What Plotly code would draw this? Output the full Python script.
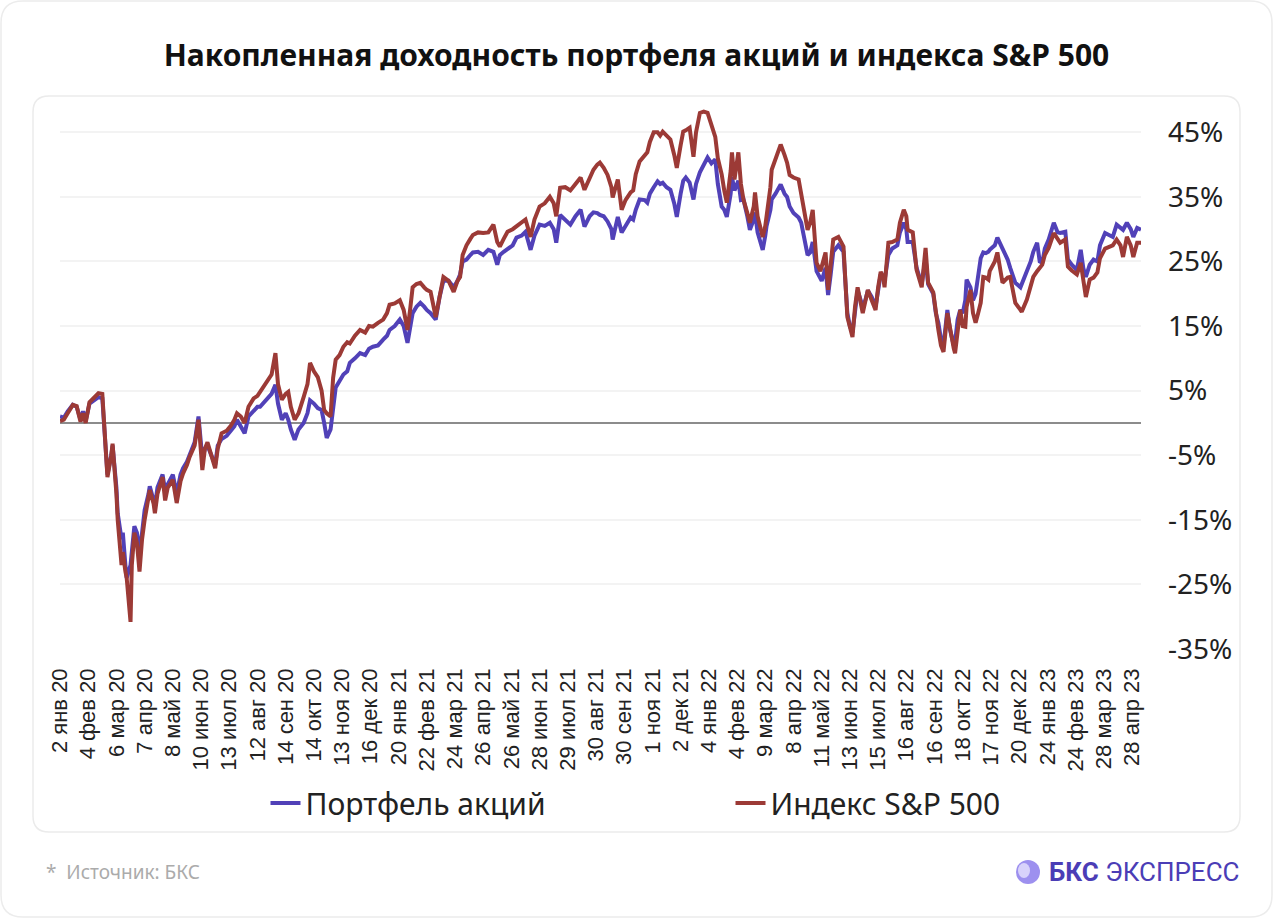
import plotly.graph_objects as go

# ---------------- data ----------------
tick_labels = ["2 янв 20", "4 фев 20", "6 мар 20", "7 апр 20", "8 май 20", "10 июн 20",
               "13 июл 20", "12 авг 20", "14 сен 20", "14 окт 20", "13 ноя 20", "16 дек 20",
               "20 янв 21", "22 фев 21", "24 мар 21", "26 апр 21", "26 май 21", "28 июн 21",
               "29 июл 21", "30 авг 21", "30 сен 21", "1 ноя 21", "2 дек 21", "4 янв 22",
               "4 фев 22", "9 мар 22", "8 апр 22", "11 май 22", "13 июн 22", "15 июл 22",
               "16 авг 22", "16 сен 22", "18 окт 22", "17 ноя 22", "20 дек 22", "24 янв 23",
               "24 фев 23", "28 мар 23", "28 апр 23"]
# trading-day index of each tick label
tick_days = [0, 22, 44, 66, 88, 110, 132, 154, 176, 198, 220, 242, 264, 286, 308, 330,
             352, 374, 396, 418, 440, 462, 484, 506, 528, 550, 572, 594, 616, 638, 660,
             682, 704, 726, 748, 770, 792, 814, 836]

# trading-day index of each sample
days = [0, 3, 6, 10, 13, 16, 18, 20, 23, 27,
        30, 33, 35, 37, 40, 41, 44, 45, 48, 49,
        51, 52, 55, 56, 58, 60, 62, 64, 66, 69,
        70, 73, 74, 76, 80, 82, 84, 88, 91, 94,
        96, 99, 101, 105, 108, 111, 113, 115, 118, 121,
        123, 126, 130, 133, 136, 138, 141, 144, 147, 151,
        154, 156, 159, 162, 165, 168, 170, 173, 176, 178,
        180, 183, 186, 190, 193, 195, 198, 201, 204, 206,
        208, 211, 213, 215, 218, 221, 224, 226, 230, 234,
        238, 241, 244, 248, 252, 255, 257, 261, 265, 268,
        271, 273, 275, 278, 281, 284, 286, 289, 291, 293,
        296, 299, 303, 307, 310, 312, 314, 317, 320, 322,
        326, 330, 334, 338, 341, 343, 346, 349, 353, 356,
        360, 363, 367, 370, 374, 378, 382, 385, 387, 390,
        394, 398, 402, 406, 409, 413, 416, 419, 421, 424,
        427, 430, 431, 435, 438, 441, 445, 447, 449, 452,
        456, 458, 460, 463, 466, 468, 470, 473, 476, 479,
        481, 484, 486, 488, 491, 494, 496, 499, 502, 505,
        508, 511, 513, 516, 518, 520, 523, 524, 526, 529,
        531, 533, 536, 538, 541, 542, 544, 548, 550, 551,
        554, 555, 558, 562, 565, 567, 569, 572, 576, 578,
        580, 583, 585, 587, 590, 593, 594, 597, 599, 601,
        603, 607, 611, 614, 616, 618, 620, 622, 626, 628,
        630, 633, 636, 638, 640, 642, 643, 646, 649, 653,
        655, 658, 660, 661, 665, 668, 671, 672, 675, 677,
        681, 683, 685, 687, 689, 692, 694, 697, 698, 700,
        702, 704, 706, 707, 710, 712, 714, 716, 718, 720,
        722, 724, 725, 729, 731, 735, 739, 741, 745, 749,
        750, 754, 757, 759, 762, 764, 766, 768, 771, 775,
        778, 780, 784, 786, 789, 793, 796, 798, 800, 803,
        806, 809, 811, 815, 819, 821, 824, 827, 829, 832,
        835, 837, 840, 843]

# cumulative return, %
portfolio = [1.0, 0.8, 1.8, 2.8, 2.5, 0.5, 1.8, 0.3, 3.0, 3.5,
             4.0, 3.8, -2, -8, -5, -3.5, -10, -14, -18, -17,
             -22, -24, -22, -20, -16, -17, -20, -17, -13.5, -11,
             -9.8, -12, -13, -10, -8, -10.5, -9.5, -8, -11, -8,
             -7, -6, -5, -3, 1.0, -5.5, -4, -3.5, -5, -6.5,
             -3.5, -2.5, -2, -1.2, -0.5, 0.5, -0.5, -1.6, 1, 1.8,
             2.5, 2.5, 3.2, 4, 4.5, 5.9, 3, 0.5, 1.5, 0.5,
             -1, -2.6, -1, 0, 1.5, 3.5, 3, 2.3, 2, 0,
             -2.3, -1, 3, 5.5, 6.5, 7.5, 8, 9.3, 10, 10.8,
             10.5, 11.5, 11.8, 12, 12.9, 13.5, 14.4, 15, 16, 15,
             12.4, 15, 17, 18, 18.6, 18, 17.5, 17, 16.5, 16,
             19.5, 22, 22, 21, 22, 23, 25, 25.3, 26, 26.4,
             26.5, 26, 26.8, 26.5, 24.5, 26, 26.5, 27, 27.5, 28.7,
             29, 29.6, 26.8, 29, 30.7, 30.5, 31, 30, 27.9, 32.2,
             31.5, 30.7, 32, 33, 30.4, 32, 32.6, 32.5, 32.2, 32,
             31.2, 30, 28.4, 31.9, 29.5, 30.5, 31.8, 31.5, 33, 34.6,
             34.5, 34.1, 35.5, 36.5, 37.4, 37, 37.2, 36.5, 36.1, 34,
             31.9, 35.5, 37.5, 38, 37.2, 34.6, 37, 38.8, 40, 41.1,
             40.2, 40.8, 37, 33.5, 33, 31.9, 35.5, 38.1, 36, 37.5,
             34.5, 34.6, 32, 29.9, 31.5, 32.6, 29.5, 26.8, 29, 30.5,
             33, 34.6, 35.5, 36.9, 35.5, 35, 33.5, 32.5, 31.8, 31,
             29, 26, 26.4, 28, 23.5, 22.5, 22, 24, 19.8, 23,
             26.5, 27.5, 26.5, 17, 15, 14, 17.5, 20.5, 18, 19,
             20.5, 19.5, 18, 21, 23, 22.5, 22, 26, 27, 27.5,
             29.5, 31, 30, 28, 28, 24, 22, 21.5, 25.5, 21.5,
             20, 17, 15.5, 13, 12, 17.5, 14.5, 12, 12.5, 16,
             17.5, 17, 19, 22.2, 21, 19, 20, 23, 25.5, 26.4,
             26.3, 26.5, 26.8, 27.5, 28.7, 27, 25.3, 24, 21.7, 21,
             21.5, 23.5, 25, 26.5, 27.9, 25, 24.8, 27, 28.4, 31,
             29.5, 29.4, 29.6, 25.3, 24.5, 23.7, 26.8, 24, 22.6, 24.5,
             25.3, 25, 27.5, 29.4, 29, 28.8, 30.7, 30.2, 29.9, 31,
             30, 28.8, 30.2, 29.9]

sp500 = [0.3, 0.5, 1.5, 2.8, 2.6, 0.2, 1.5, 0.0, 3.2, 4.0,
         4.6, 4.5, -3, -8.4, -5, -3.2, -11, -15, -22, -20,
         -23, -24, -30.8, -22, -17, -18.6, -23, -18, -15, -12,
         -10.4, -12.5, -14, -11, -8.4, -12, -10, -8.8, -12.4, -9,
         -7.8, -6.5, -5.3, -3.5, 0.5, -7.3, -4, -3, -5, -7,
         -4, -1.6, -1.2, -0.5, 0.5, 1.5, 1, 0, 2.5, 3.8,
         4.2, 4.8, 5.5, 6.5, 7.5, 10.8, 6, 3.6, 4.5, 4.8,
         2.5, 0.5, 1.5, 4, 6, 9.3, 8, 7.1, 5, 2,
         1.5, 1, 7, 9.8, 10.5, 11.8, 12.5, 12.3, 13.5, 14.4,
         14, 15, 14.9, 15.5, 16, 17, 18.3, 18.5, 19, 17.5,
         14.4, 17.5, 21, 21.5, 21.7, 21, 20.6, 20.3, 18.5, 16.4,
         19.5, 22.6, 22, 20.3, 22, 22.6, 26, 27.5, 28.5, 29.1,
         29.5, 29.4, 29.5, 30.7, 28, 27.3, 28.5, 29.6, 30, 30.4,
         31, 31.5, 28.8, 31.5, 33.5, 34, 35, 34, 32, 36.4,
         36.5, 36, 37, 38, 36.1, 38, 39.2, 40, 40.3, 39.5,
         38.4, 36.5, 34.9, 37.7, 33, 34.5, 35.7, 36, 38.5, 40.5,
         41.5, 41.9, 43.5, 45, 45, 44.5, 45.1, 44.5, 43.9, 41.5,
         39.5, 43, 45.1, 45.3, 45.7, 41.2, 45, 48, 48.2, 48,
         46, 44.3, 41, 38.5, 36, 34.1, 39, 41.9, 37.7, 41.9,
         37, 34.6, 32.5, 31, 33.5, 35.7, 32, 28.8, 30.5, 31.9,
         36.5, 39.2, 41, 43.1, 41.5, 40.3, 38.4, 38, 37.7, 35.7,
         33, 29.9, 31, 33, 24.8, 23.5, 24.2, 26.4, 20.6, 24,
         28.4, 28.8, 27.3, 16.4, 14.5, 13.3, 18, 21, 17, 19,
         20.6, 19, 17.5, 21, 23.4, 22.5, 21, 27.9, 28, 28.4,
         31, 33, 32, 29.9, 29.5, 23.7, 22, 21, 27.1, 21.7,
         20.2, 17, 14.4, 12, 11, 17, 14.4, 11.5, 10.8, 14.5,
         17.5, 15, 14.9, 18, 20.6, 17, 15.5, 17, 18.6, 22.6,
         22.5, 22.2, 23.5, 25, 26.4, 21.7, 22.5, 22.6, 18.6, 17.5,
         17.2, 19.1, 21, 22.6, 23.5, 24, 24.5, 26, 27.1, 29.4,
         28.5, 27.9, 28.4, 24.2, 23.6, 23, 24.8, 21.5, 19.5, 22.2,
         22.5, 23.3, 25.5, 27, 27.3, 27.5, 28.4, 27.5, 25.7, 28.8,
         27.5, 25.7, 27.9, 27.9]

y_ticks = [-35, -25, -15, -5, 5, 15, 25, 35, 45]
y_tick_text = [f"{v}%" for v in y_ticks]

series_names = ["Портфель акций", "Индекс S&P 500"]
series_colors = ["#5141b8", "#9c3a36"]

# ---------------- layout geometry ----------------
W, H = 1273, 919
ML, MR, MT, MB = 60, 132, 100, 270
PW, PH = W - ML - MR, H - MT - MB


def pxx(px):
    return (px - ML) / PW


def pxy(py):
    return (H - MB - py) / PH


def rounded_rect(x0, y0, x1, y1, r):
    rx, ry = r / PW, r / PH
    a, b, c, d = pxx(x0), pxy(y0), pxx(x1), pxy(y1)   # b top, d bottom (paper)
    return (f"M {a+rx},{b} L {c-rx},{b} Q {c},{b} {c},{b-ry} "
            f"L {c},{d+ry} Q {c},{d} {c-rx},{d} L {a+rx},{d} Q {a},{d} {a},{d+ry} "
            f"L {a},{b-ry} Q {a},{b} {a+rx},{b} Z")


fig = go.Figure()
for name, vals, col in zip(series_names, [portfolio, sp500], series_colors):
    fig.add_trace(go.Scatter(x=days, y=vals, mode="lines", name=name,
                             line=dict(color=col, width=4)))

shapes = [
    dict(type="path", xref="paper", yref="paper", path=rounded_rect(1, 1, 1272, 917, 22),
         line=dict(color="#ececec", width=1.5), fillcolor="rgba(0,0,0,0)", layer="below"),
    dict(type="path", xref="paper", yref="paper", path=rounded_rect(33, 96, 1240, 832, 16),
         line=dict(color="#ebebeb", width=1.5), fillcolor="rgba(0,0,0,0)", layer="below"),
    dict(type="circle", xref="paper", yref="paper",
         x0=pxx(1016), x1=pxx(1040), y0=pxy(884), y1=pxy(860),
         line=dict(width=0), fillcolor="#9d90ef"),
    dict(type="circle", xref="paper", yref="paper",
         x0=pxx(1018), x1=pxx(1030), y0=pxy(878), y1=pxy(863),
         line=dict(width=0), fillcolor="#d8d2fb"),
]

annotations = [
    dict(xref="paper", yref="paper", x=pxx(44), y=pxy(872), xanchor="left", yanchor="middle",
         text="*  Источник: БКС", showarrow=False,
         font=dict(size=19, color="#ababab", family="Noto Sans")),
    dict(xref="paper", yref="paper", x=pxx(1047), y=pxy(872), xanchor="left", yanchor="middle",
         text="<b>БКС</b> ЭКСПРЕСС", showarrow=False,
         font=dict(size=26, color="#4b3db6", family="Roboto")),
]

fig.update_layout(
    width=W, height=H,
    margin=dict(l=ML, r=MR, t=MT, b=MB),
    paper_bgcolor="white", plot_bgcolor="white",
    font=dict(family="Noto Sans", color="#222"),
    title=dict(text="<b>Накопленная доходность портфеля акций и индекса S&P 500</b>",
               x=0.5, xref="container", xanchor="center",
               y=1 - 55 / H, yref="container", yanchor="middle",
               font=dict(size=30, color="#111", family="Noto Sans")),
    xaxis=dict(range=[0, 843], tickmode="array", tickvals=tick_days, ticktext=tick_labels,
               tickangle=-90, tickfont=dict(size=22, family="Liberation Sans", color="#222"),
               showgrid=False, zeroline=False, showline=False, ticks="",
               ticklabelstandoff=14, automargin=False),
    yaxis=dict(side="right", range=[-35, 50], tickmode="array", tickvals=y_ticks,
               ticktext=y_tick_text, tickfont=dict(size=28, family="Noto Sans", color="#222"),
               showgrid=True, gridcolor="#f3f3f3", gridwidth=1.5,
               zeroline=True, zerolinecolor="#8c8c8c", zerolinewidth=1.5,
               showline=False, ticks="", ticklabelstandoff=26, automargin=False),
    legend=dict(orientation="h", xref="container", x=(273 - 7.5) / W, xanchor="left",
                yref="container", y=1 - 803 / H, yanchor="middle",
                bgcolor="rgba(0,0,0,0)",
                font=dict(size=30, family="Noto Sans", color="#222"),
                entrywidth=420, traceorder="normal"),
    shapes=shapes, annotations=annotations,
    showlegend=True,
)

fig.write_html("out.html", config={"displayModeBar": False},
               post_script="document.body.style.margin='0';")
